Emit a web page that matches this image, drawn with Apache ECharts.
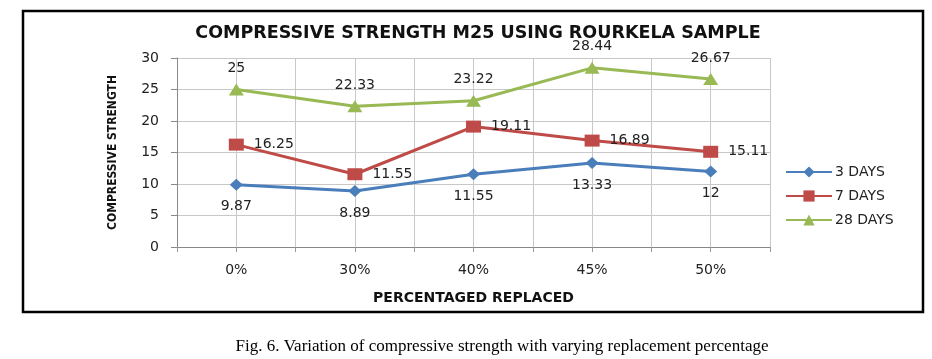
<!DOCTYPE html>
<html>
<head>
<meta charset="utf-8">
<script src="https://cdn.jsdelivr.net/npm/echarts@6/dist/echarts.min.js"></script>
<style>html,body{margin:0;padding:0;background:#fff;}#c{width:932px;height:359px;}</style>
</head>
<body>
<div id="c"></div>
<script>
const categories = ['0%', '30%', '40%', '45%', '50%'];
const days3 = [9.87, 8.89, 11.55, 13.33, 12];
const days7 = [16.25, 11.55, 19.11, 16.89, 15.11];
const days28 = [25, 22.33, 23.22, 28.44, 26.67];
const yTicks = [0, 5, 10, 15, 20, 25, 30];
const seriesNames = ['3 DAYS', '7 DAYS', '28 DAYS'];
const titleText = 'COMPRESSIVE STRENGTH M25 USING ROURKELA SAMPLE';
const xName = 'PERCENTAGED REPLACED';
const yName = 'COMPRESSIVE STRENGTH';
const caption = 'Fig. 6. Variation of compressive strength with varying replacement percentage';

const chart = echarts.init(document.getElementById('c'));
const labelFont = { fontFamily: 'DejaVu Sans', fontSize: 14, color: '#222' };
function mk(name, data, color, symbol, size, pos, dist) {
  return {
    name: name, type: 'line', data: data, xAxisIndex: 0, yAxisIndex: 0,
    symbol: symbol, symbolSize: size, showSymbol: true,
    lineStyle: { color: color, width: 3 },
    itemStyle: { color: color },
    label: Object.assign({ show: true, position: pos, distance: dist }, labelFont),
    emphasis: { disabled: true }, animation: false
  };
}
chart.setOption({
  animation: false,
  title: {
    text: titleText, left: 473, top: 19, textAlign: 'center',
    textStyle: { fontFamily: 'DejaVu Sans', fontWeight: 'bold', fontSize: 17.5, color: '#111' }
  },
  legend: {
    orient: 'vertical', left: 780, top: 160, itemWidth: 46, itemHeight: 14, itemGap: 10,
    textStyle: { fontFamily: 'DejaVu Sans', fontSize: 14, color: '#222', padding: [0, 0, 0, -2] },
    data: seriesNames
  },
  grid: { left: 177, right: 162, top: 58, bottom: 112 },
  xAxis: [{
    type: 'category', data: categories, boundaryGap: true,
    name: xName, nameLocation: 'middle', nameGap: 44,
    nameTextStyle: { fontFamily: 'DejaVu Sans', fontWeight: 'bold', fontSize: 14, color: '#111' },
    axisLine: { lineStyle: { color: '#888', width: 1 } },
    axisTick: { show: false },
    axisLabel: Object.assign({ margin: 16 }, labelFont),
    splitLine: { show: false }
  }, {
    type: 'value', min: 0, max: 10, interval: 1, position: 'bottom',
    axisLine: { show: false }, axisLabel: { show: false },
    axisTick: { show: true, length: 5, inside: false, lineStyle: { color: '#999' } },
    splitLine: { show: true, lineStyle: { color: '#c8c8c8', width: 1 } }
  }],
  yAxis: {
    type: 'value', min: yTicks[0], max: yTicks[yTicks.length - 1], interval: 5,
    name: yName, nameLocation: 'middle', nameGap: 58,
    nameTextStyle: { fontFamily: 'DejaVu Sans Condensed, Liberation Sans Narrow, sans-serif', fontWeight: 'bold', fontSize: 12, color: '#111' },
    axisLine: { show: true, lineStyle: { color: '#888' } },
    axisTick: { show: true, length: 6, lineStyle: { color: '#888' } },
    axisLabel: Object.assign({ margin: 18 }, labelFont),
    splitLine: { show: true, lineStyle: { color: '#c8c8c8', width: 1 } }
  },
  series: [
    mk(seriesNames[0], days3, '#4a7ebb', 'diamond', [13, 12], 'bottom', 9),
    mk(seriesNames[1], days7, '#be4b48', 'rect', [15, 12], 'right', 10),
    mk(seriesNames[2], days28, '#98b954', 'triangle', [15, 12], 'top', 8)
  ],
  graphic: [
    { type: 'rect', shape: { x: 23, y: 11, width: 900, height: 301 }, style: { fill: 'none', stroke: '#000', lineWidth: 2.5 }, z: 100, silent: true },
    { type: 'text', x: 502, y: 347, style: { text: caption, fontFamily: 'Liberation Serif', fontSize: 17, fill: '#000', textAlign: 'center', textVerticalAlign: 'middle' }, silent: true }
  ]
});
</script>
</body>
</html>
